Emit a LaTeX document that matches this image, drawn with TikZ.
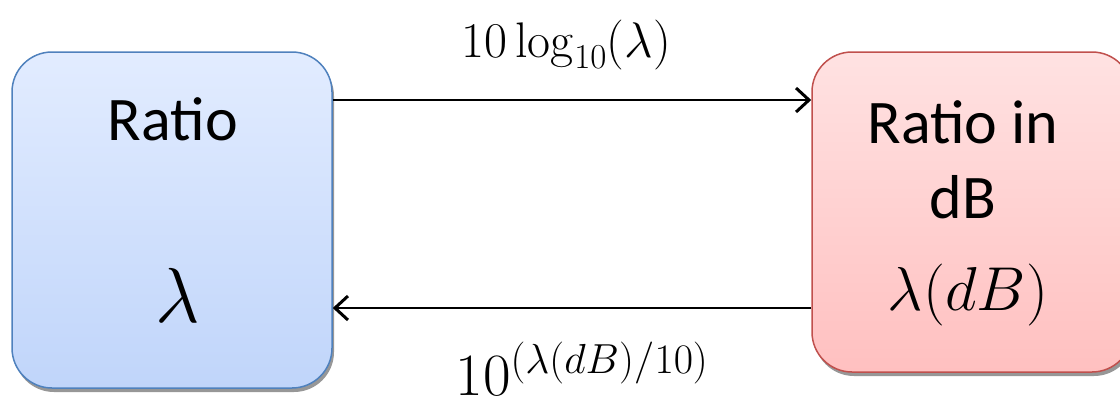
\RequirePackage{fix-cm}
\documentclass[tikz,border=0pt]{standalone}
\usepackage[no-math]{fontspec}
\newfontfamily\boxfont{Carlito}
\usepackage{tikz}
\usetikzlibrary{positioning,calc,arrows.meta,shadows}
\definecolor{blueTop}{RGB}{226,236,255}
\definecolor{blueBot}{RGB}{192,213,250}
\definecolor{blueEdge}{RGB}{79,129,189}
\definecolor{redTop}{RGB}{255,226,226}
\definecolor{redBot}{RGB}{255,192,192}
\definecolor{redEdge}{RGB}{192,80,77}

\begin{document}
\begin{tikzpicture}[x=1pt,y=1pt,
 box/.style={draw,rounded corners=40pt,line width=1.5pt,minimum width=320pt,inner sep=0pt,
   drop shadow={shadow xshift=2pt,shadow yshift=-4pt,fill=black!45,opacity=.9}},
 lbl/.style={font=\boxfont\fontsize{62}{75}\selectfont,anchor=base,inner sep=0pt},
 ar/.style={-{Straight Barb[length=13pt,width=24pt,line width=3pt]},line width=1.5pt}]
\useasboundingbox (0,0) rectangle (1120,-408);
\node[box,minimum height=336pt,draw=blueEdge,top color=blueTop,bottom color=blueBot] (lin) at (172,-220) {};
\node[box,minimum height=320pt,draw=redEdge,top color=redTop,bottom color=redBot] (db) at (972,-212) {};
% texts in the boxes
\node[lbl] (lintxt) at (173,-140) {Ratio};
\node[lbl,font=\fontsize{78}{86}\selectfont] (linsym) at (178,-322) {$\lambda$};
\node[lbl] (dbtxt) at (963,-143) {Ratio in};
\node[lbl] (dbunit) at (963,-218) {dB};
\node[lbl,font=\fontsize{62}{72}\selectfont] (dbsym) at (968,-310) {$\lambda(dB)$};
% conversions
\draw[ar] ([yshift=120pt]lin.east) -- ([yshift=112pt]db.west)
 node[midway,anchor=base,inner sep=0pt,yshift=43pt,xshift=-6pt,font=\fontsize{50}{60}\selectfont] (fwd) {$10\log_{10}(\lambda)$};
\draw[ar] ([yshift=-96pt]db.west) -- ([yshift=-88pt]lin.east)
 node[midway,anchor=base,inner sep=0pt,yshift=-87pt,xshift=10pt,font=\fontsize{60}{68}\selectfont] (bwd) {$10^{(\lambda(dB)/10)}$};
\end{tikzpicture}
\end{document}
